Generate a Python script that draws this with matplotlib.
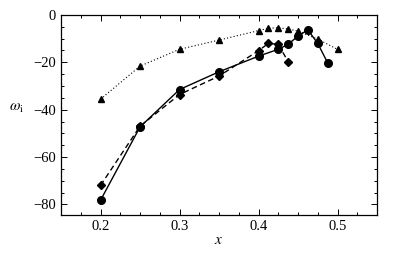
import matplotlib
matplotlib.use("Agg")
import matplotlib.pyplot as plt
from matplotlib.ticker import MultipleLocator

plt.rcParams['font.family'] = ['Liberation Serif', 'DejaVu Serif']
plt.rcParams['mathtext.fontset'] = 'stix'

# dotted triangles
tri_x = [0.2, 0.25, 0.3, 0.35, 0.4, 0.4125, 0.425, 0.4375, 0.45, 0.475, 0.5]
tri_y = [-35.6, -21.6, -14.5, -10.6, -6.6, -5.6, -5.4, -5.9, -6.8, -10.2, -14.5]

# solid circles
circ_x = [0.2, 0.25, 0.3, 0.35, 0.4, 0.425, 0.4375, 0.45, 0.4625, 0.475, 0.4875]
circ_y = [-78.3, -47.3, -31.5, -24.0, -17.4, -14.5, -12.4, -8.9, -6.3, -12.0, -20.2]

# dashed diamonds
dia_x = [0.2, 0.25, 0.3, 0.35, 0.4, 0.4125, 0.425, 0.4375]
dia_y = [-72.0, -47.0, -33.6, -25.8, -15.1, -12.0, -12.4, -19.7]

fig = plt.figure(figsize=(4.0, 2.54), dpi=100)
ax = fig.add_axes([0.1525, 0.1535, 0.79, 0.7875])

ax.plot(tri_x, tri_y, color="black", linestyle=(0, (1, 2)), linewidth=0.8,
        marker='^', markersize=5)
ax.plot(circ_x, circ_y, color="black", linestyle='-', linewidth=1.0,
        marker='o', markersize=5.5)
ax.plot(dia_x, dia_y, color="black", linestyle=(0, (4, 2.5)), linewidth=1.0,
        marker='D', markersize=4)

ax.set_xlim(0.15, 0.55)
ax.set_ylim(-84.5, 0)
ax.xaxis.set_major_locator(MultipleLocator(0.1))
ax.xaxis.set_minor_locator(MultipleLocator(0.025))
ax.yaxis.set_major_locator(MultipleLocator(20))
ax.yaxis.set_minor_locator(MultipleLocator(5))
ax.tick_params(which='both', direction='in', top=True, right=True, labelsize=10.5, width=0.7)
ax.tick_params(which='major', length=4)
ax.tick_params(which='minor', length=2.5)
for s in ax.spines.values():
    s.set_linewidth(0.9)

ax.set_xlabel(r'$x$', fontsize=11, labelpad=1)
ax.set_ylabel(r'$\omega_{\mathrm{i}}$', fontsize=11, rotation=0, labelpad=12)

fig.savefig("out.png", dpi=100)
